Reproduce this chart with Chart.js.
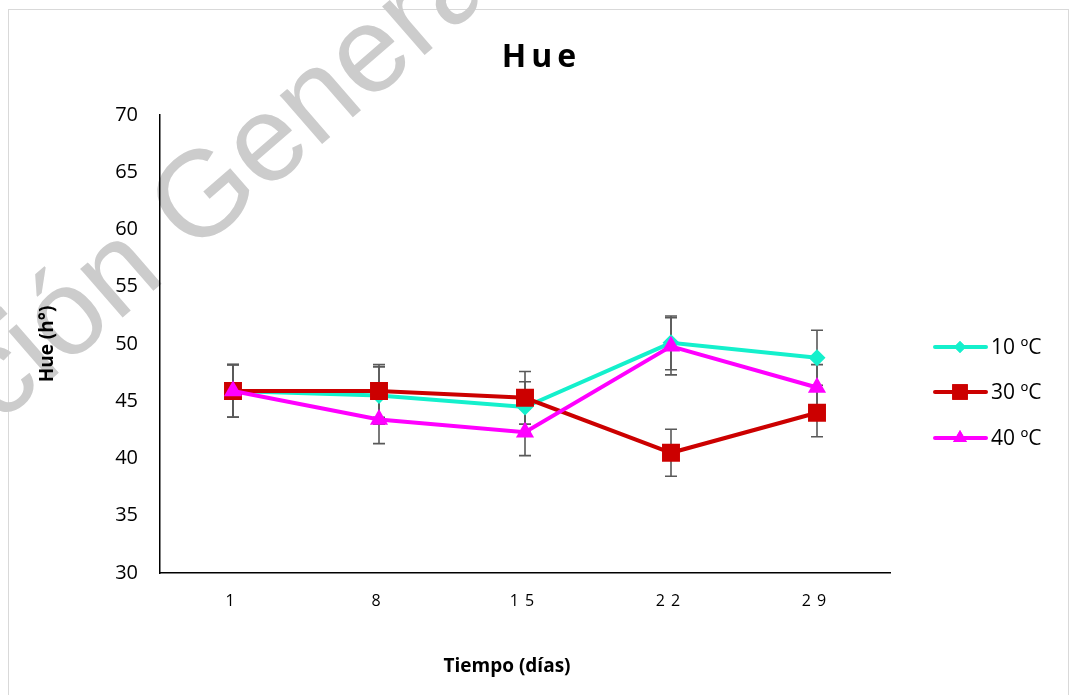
<!DOCTYPE html>
<html>
<head>
<meta charset="utf-8">
<script src="https://cdn.jsdelivr.net/npm/chart.js@4/dist/chart.umd.min.js"></script>
<style>
  html, body { margin: 0; padding: 0; background: #fff; }
  #wrap { width: 1070px; height: 695px; position: relative; }
</style>
</head>
<body>
<div id="wrap"><canvas id="hueChart" width="1070" height="695"></canvas></div>
<script>
// Hue angle (h°) over storage time at three temperatures
const days = ['1', '8', '15', '22', '29'];
const seriesNames = ['10 ºC', '30 ºC', '40 ºC'];
const hue10 = [45.9, 45.5, 44.5, 50.1, 48.8];
const hue30 = [45.9, 45.9, 45.3, 40.5, 44.0];
const hue40 = [45.9, 43.4, 42.3, 49.8, 46.2];
// standard deviations (± error bars)
const err10 = [2.3, 2.5, 2.2, 2.35, 2.4];
const err30 = [2.3, 2.3, 2.3, 2.05, 2.1];
const err40 = [2.3, 2.1, 2.05, 2.5, 2.0];
const yMin = 30, yMax = 70, yStep = 5;

const chartTitle = 'Hue';
const xTitle = 'Tiempo (días)';
const yTitle = 'Hue (h°)';
const watermarkText = 'ción General';

const CYAN = '#14F0CC';
const RED = '#CC0000';
const MAGENTA = '#FF00FF';
const FONT = '"Open Sans", "Noto Sans", sans-serif';

// page frame and background watermark
const backdrop = {
  id: 'backdrop',
  beforeDraw(chart) {
    const ctx = chart.ctx;
    ctx.save();
    ctx.fillStyle = '#ffffff';
    ctx.fillRect(0, 0, chart.width, chart.height);
    ctx.strokeStyle = '#d9d9d9';
    ctx.lineWidth = 1;
    ctx.strokeRect(8.5, 9.5, 1060, 720);
    const size = 122;
    ctx.font = size + 'px "Liberation Sans", Arial, sans-serif';
    ctx.fillStyle = '#cccccc';
    const pre = ctx.measureText('ción ').width;
    const gW = ctx.measureText('G').width;
    ctx.translate(200, 192);
    ctx.rotate(-41 * Math.PI / 180);
    ctx.textBaseline = 'alphabetic';
    ctx.fillText(watermarkText, -(pre + gW / 2), 0.36 * size);
    ctx.restore();
  }
};

// vertical error bars with caps
const errorBars = {
  id: 'errorBars',
  beforeDatasetsDraw(chart) {
    const ctx = chart.ctx;
    const y = chart.scales.y;
    ctx.save();
    ctx.strokeStyle = '#595959';
    ctx.lineWidth = 1.6;
    chart.data.datasets.forEach((ds, i) => {
      const meta = chart.getDatasetMeta(i);
      meta.data.forEach((pt, j) => {
        const v = ds.data[j], e = ds.errors[j];
        const top = y.getPixelForValue(v + e);
        const bot = y.getPixelForValue(v - e);
        const x = pt.x;
        ctx.beginPath();
        ctx.moveTo(x, top); ctx.lineTo(x, bot);
        ctx.moveTo(x - 6, top); ctx.lineTo(x + 6, top);
        ctx.moveTo(x - 6, bot); ctx.lineTo(x + 6, bot);
        ctx.stroke();
      });
    });
    ctx.restore();
  }
};

// wider letter spacing for the day labels
const spacedDayLabels = {
  id: 'spacedDayLabels',
  afterUpdate(chart) {
    const sc = chart.scales.x;
    if (sc && !sc._spaced) {
      const orig = sc.drawLabels;
      sc.drawLabels = function (area) {
        const c = this.ctx;
        c.save();
        c.letterSpacing = '6px';
        orig.call(this, area);
        c.restore();
      };
      sc._spaced = true;
    }
  }
};

// chart title, x-axis title and legend with line + marker samples
const annotations = {
  id: 'annotations',
  afterDraw(chart) {
    const ctx = chart.ctx;
    ctx.save();
    ctx.fillStyle = '#000';
    ctx.textAlign = 'center';
    ctx.textBaseline = 'middle';
    ctx.font = 'bold 32px ' + FONT;
    ctx.letterSpacing = '5px';
    ctx.fillText(chartTitle, 541.5, 58);
    ctx.letterSpacing = '0px';
    ctx.font = 'bold 19px ' + FONT;
    ctx.fillText(xTitle, 507, 667);

    const rowY = [347, 392, 438];
    const legendMarks = [
      { pointStyle: 'rectRot', radius: 6 },
      { pointStyle: 'rect', radius: 11 },
      { pointStyle: 'triangle', radius: 8 }
    ];
    chart.data.datasets.forEach((ds, i) => {
      const yy = rowY[i];
      ctx.strokeStyle = ds.borderColor;
      ctx.lineWidth = 4;
      ctx.lineCap = 'round';
      ctx.beginPath();
      ctx.moveTo(935, yy); ctx.lineTo(986, yy);
      ctx.stroke();
      ctx.fillStyle = ds.backgroundColor;
      Chart.helpers.drawPoint(ctx, { pointStyle: legendMarks[i].pointStyle, radius: legendMarks[i].radius, rotation: 0, borderWidth: 0 }, 960, yy);
      ctx.fill();
      ctx.fillStyle = '#000';
      ctx.textAlign = 'left';
      ctx.font = '21px ' + FONT;
      ctx.fillText(ds.label, 991, yy + 1);
    });
    ctx.restore();
  }
};

const lineDataset = (label, data, errors, color, style, radius, order) => ({
  label, data, errors,
  borderColor: color,
  backgroundColor: color,
  pointBackgroundColor: color,
  pointBorderColor: color,
  pointBorderWidth: 0,
  pointStyle: style,
  pointRadius: radius,
  borderWidth: 4,
  tension: 0,
  order
});

new Chart(document.getElementById('hueChart'), {
  type: 'line',
  data: {
    labels: days,
    datasets: [
      lineDataset(seriesNames[0], hue10, err10, CYAN, 'rectRot', 8.5, 3),
      lineDataset(seriesNames[1], hue30, err30, RED, 'rect', 12.7, 2),
      lineDataset(seriesNames[2], hue40, err40, MAGENTA, 'triangle', 10.5, 1)
    ]
  },
  plugins: [backdrop, errorBars, spacedDayLabels, annotations],
  options: {
    responsive: false,
    animation: false,
    layout: { padding: { left: 0, right: 180, top: 115, bottom: 0 } },
    plugins: {
      legend: { display: false },
      tooltip: { enabled: false },
      title: { display: false }
    },
    scales: {
      x: {
        type: 'category',
        offset: true,
        grid: { display: false, drawTicks: false },
        border: { display: true, color: '#000', width: 1.5 },
        ticks: { padding: 19, color: '#000', font: { family: FONT, size: 16 } },
        afterFit(s) { s.height = 122; }
      },
      y: {
        min: yMin,
        max: yMax,
        grid: { display: false, drawTicks: false },
        border: { display: true, color: '#000', width: 1.5 },
        ticks: { stepSize: yStep, padding: 22, color: '#000', font: { family: FONT, size: 20 } },
        title: {
          display: true,
          text: yTitle,
          color: '#000',
          font: { family: FONT, size: 19, weight: 'bold' },
          padding: { top: 36, bottom: 0 }
        },
        afterFit(s) { s.width = 160; }
      }
    }
  }
});
</script>
</body>
</html>
